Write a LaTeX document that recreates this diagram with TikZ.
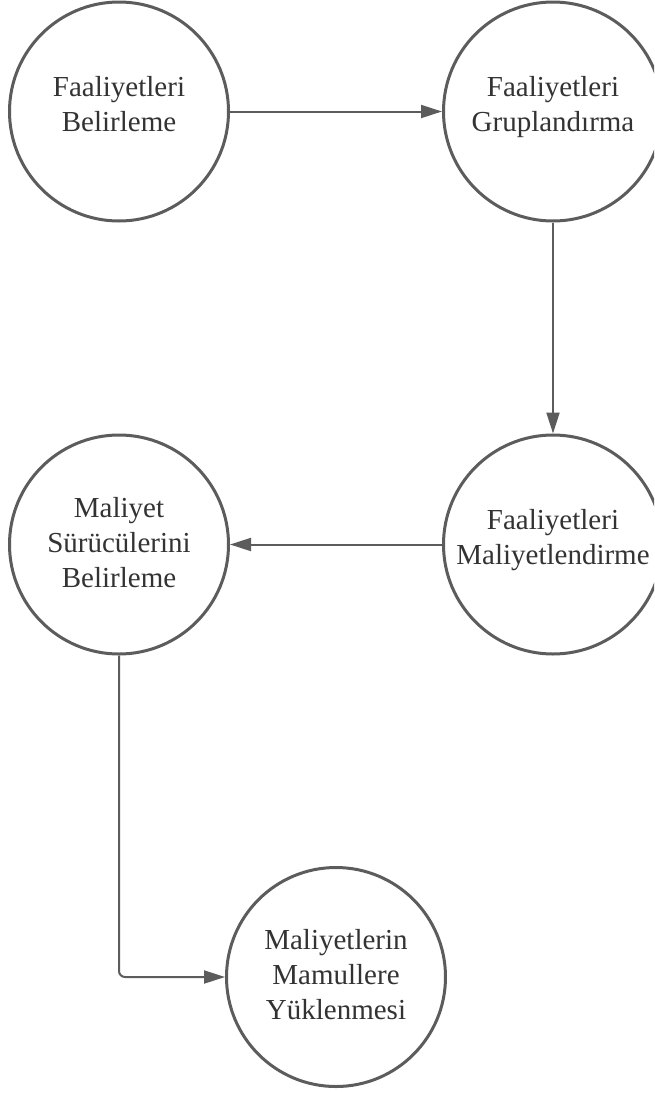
\documentclass[tikz,border=0pt]{standalone}
\usepackage{fontspec}
\setmainfont{Liberation Serif}
\usetikzlibrary{arrows.meta}
\definecolor{edge}{HTML}{5C5C5C}
\definecolor{ink}{HTML}{333333}
% invisible strut that deepens the last line of a label
\newcommand\lowfill[1]{\rule[-#1]{0pt}{#1}}
\begin{document}
\begin{tikzpicture}[x=1pt,y=-1pt,
  stage/.style={circle, draw=edge, line width=3pt, fill=white,
    minimum size=219pt, inner sep=0pt, align=center, text=ink,
    font=\fontsize{29}{35}\selectfont},
  flow/.style={draw=edge, line width=2pt,
    -{Triangle[length=21pt,width=13pt]}}]
\useasboundingbox (0,0) rectangle (654,1093);
\clip (0,0) rectangle (654,1093);
\fill[white] (0,0) rectangle (654,1093);

\node[stage] (c1) at (119,111.5) {Faaliyetleri\\Belirleme\lowfill{15.8pt}};
\node[stage] (c2) at (553,111.5) {Faaliyetleri\\Gruplandırma\lowfill{15.8pt}};
\node[stage] (c3) at (553,544.5) {Faaliyetleri\\Maliyetlendirme\lowfill{15.8pt}};
\node[stage] (c4) at (119,544.5) {Maliyet\\Sürücülerini\\Belirleme\lowfill{4.8pt}};
\node[stage] (c5) at (336,977) {Maliyetlerin\\Mamullere\\Yüklenmesi\lowfill{4.8pt}};

\draw[flow] (c1) -- (c2);
\draw[flow] (c2) -- (c3);
\draw[flow] (c3) -- (c4);
\draw[flow, rounded corners=6pt] (c4.south) |- (c5.west);
\end{tikzpicture}
\end{document}
